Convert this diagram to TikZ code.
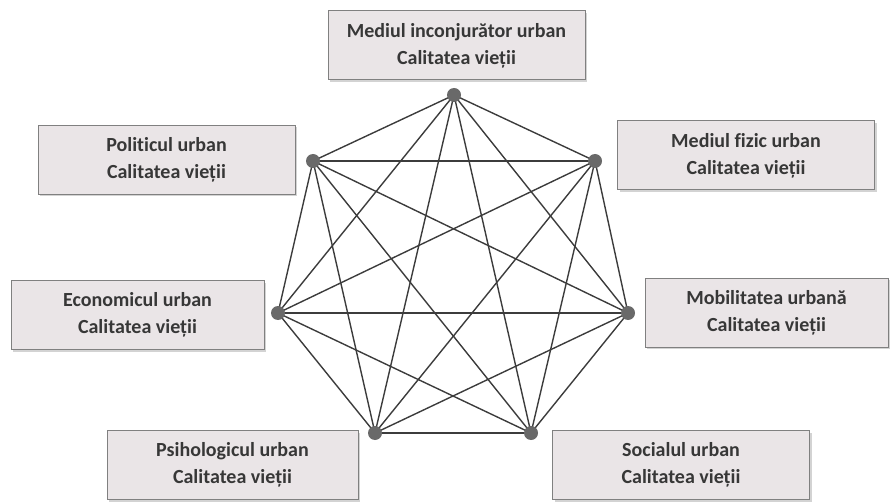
\documentclass[tikz,border=0pt]{standalone}
\usepackage{fontspec}
\setmainfont{Carlito}[Ligatures=CommonOff]
\usetikzlibrary{shadows}

\definecolor{boxfill}{RGB}{234,229,231}
\definecolor{boxline}{RGB}{128,128,128}
\definecolor{textgray}{RGB}{55,55,55}
\definecolor{edgegray}{RGB}{60,60,60}
\definecolor{dotgray}{RGB}{105,105,105}

\begin{document}
\begin{tikzpicture}[
    x=1pt, y=-1pt,
    font=\fontsize{20}{27}\selectfont\bfseries,
    % Estilos
    box/.style={
        draw=boxline, rectangle, fill=boxfill, align=center, text=textgray,
        minimum width=257pt, minimum height=69pt, line width=1pt,
        drop shadow={opacity=0.35, shadow xshift=2pt, shadow yshift=-2pt}
    },
    dot/.style={circle, fill=dotgray, inner sep=0pt, minimum size=14pt},
    line/.style={-, line width=1.4pt, color=edgegray}
]
    \useasboundingbox (0,0) rectangle (890,502);

    % --- CAIXAS ---
    \node[box] (box_env) at (456.5,45.5) {Mediul inconjurător urban\\Calitatea vieții};
    \node[box] (box_pol) at (166.5,160) {Politicul urban\\Calitatea vieții};
    \node[box] (box_fiz) at (746,155.5) {Mediul fizic urban\\Calitatea vieții};
    \node[box, minimum width=253pt] (box_eco) at (137.5,315) {Economicul urban\\Calitatea vieții};
    \node[box, minimum width=243pt] (box_mob) at (766.5,312.5) {Mobilitatea urbană\\Calitatea vieții};
    \node[box, minimum width=251pt] (box_psi) at (232.5,465) {Psihologicul urban\\Calitatea vieții};
    \node[box] (box_soc) at (681,465) {Socialul urban\\Calitatea vieții};

    % --- CONEXÕES (grafo completo) ---
    \coordinate (p_env) at (454,95);
    \coordinate (p_pol) at (313,161);
    \coordinate (p_fiz) at (595,161);
    \coordinate (p_eco) at (278,313);
    \coordinate (p_mob) at (628,313);
    \coordinate (p_psi) at (375,433);
    \coordinate (p_soc) at (531,433);

    \draw[line] (p_env) -- (p_pol); \draw[line] (p_env) -- (p_fiz); \draw[line] (p_env) -- (p_eco);
    \draw[line] (p_env) -- (p_mob); \draw[line] (p_env) -- (p_psi); \draw[line] (p_env) -- (p_soc);
    \draw[line] (p_pol) -- (p_fiz); \draw[line] (p_pol) -- (p_eco); \draw[line] (p_pol) -- (p_mob);
    \draw[line] (p_pol) -- (p_psi); \draw[line] (p_pol) -- (p_soc);
    \draw[line] (p_fiz) -- (p_eco); \draw[line] (p_fiz) -- (p_mob); \draw[line] (p_fiz) -- (p_psi);
    \draw[line] (p_fiz) -- (p_soc);
    \draw[line] (p_eco) -- (p_mob); \draw[line] (p_eco) -- (p_psi); \draw[line] (p_eco) -- (p_soc);
    \draw[line] (p_mob) -- (p_psi); \draw[line] (p_mob) -- (p_soc);
    \draw[line] (p_psi) -- (p_soc);

    % --- PONTOS ---
    \node[dot] (d_env) at (p_env) {};
    \node[dot] (d_pol) at (p_pol) {};
    \node[dot] (d_fiz) at (p_fiz) {};
    \node[dot] (d_eco) at (p_eco) {};
    \node[dot] (d_mob) at (p_mob) {};
    \node[dot] (d_psi) at (p_psi) {};
    \node[dot] (d_soc) at (p_soc) {};

\end{tikzpicture}
\end{document}
